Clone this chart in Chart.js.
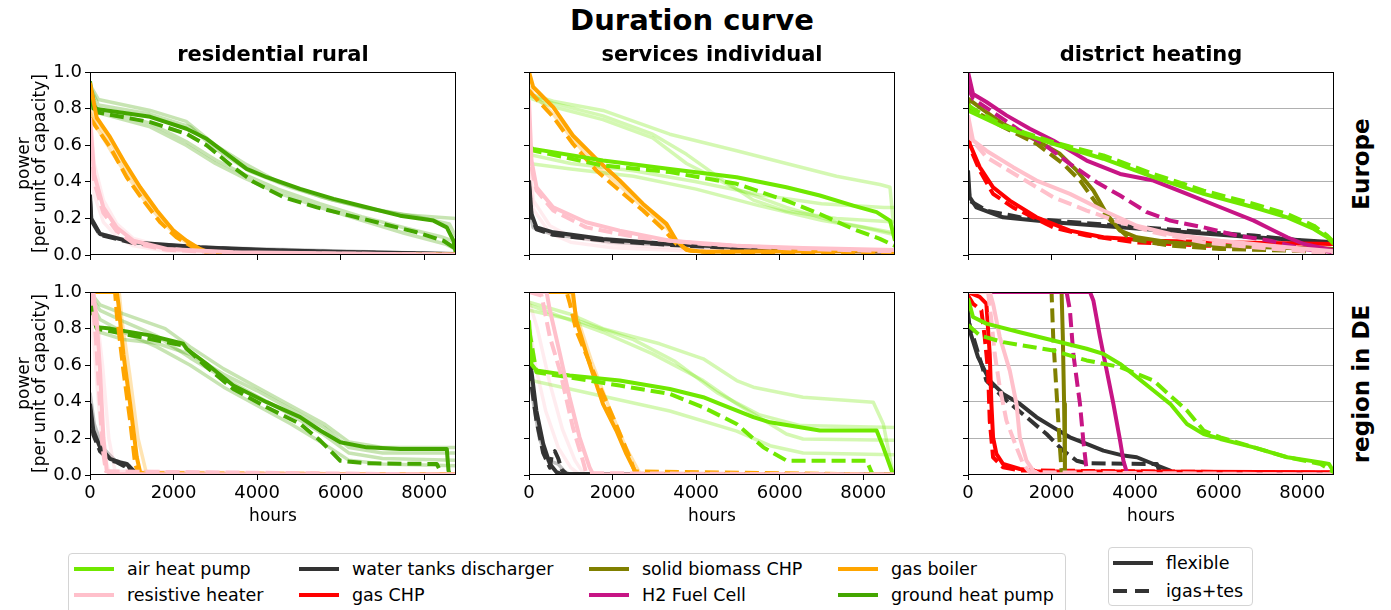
<!DOCTYPE html>
<html>
<head>
<meta charset="utf-8">
<script src="https://cdn.jsdelivr.net/npm/chart.js@4.4.1/dist/chart.umd.min.js"></script>
<style>
  body { margin: 0; background: #fff; width: 1391px; height: 610px; overflow: hidden; position: relative; font-family: 'DejaVu Sans', sans-serif; }
  canvas { position: absolute; }
  .txt { position: absolute; white-space: nowrap; color: #000; }
  .main { font-weight: bold; font-size: 29px; line-height: 29px; transform: translateX(-50%); }
  .ttl { font-weight: bold; font-size: 21px; line-height: 21px; transform: translateX(-50%); }
  .row { font-weight: bold; font-size: 23px; line-height: 23px; transform: translate(-50%, -50%) rotate(-90deg); }
  .box { position: absolute; border: 1px solid #d4d4d4; border-radius: 4px; background: #fff; }
  .sw { position: absolute; width: 40px; height: 4px; }
  .lab { position: absolute; font-size: 17.5px; line-height: 20px; white-space: nowrap; }
</style>
</head>
<body>
<script>
// ---- labels ----
const chartTitle = "Duration curve";
const colTitles = ["residential rural", "services individual", "district heating"];
const rowTitles = ["Europe", "region in DE"];
const legendTechs = ["air heat pump", "resistive heater", "water tanks discharger", "gas CHP",
                     "solid biomass CHP", "H2 Fuel Cell", "gas boiler", "ground heat pump"];
const legendKeys = ["air", "resistive", "water", "gasChp", "biomass", "h2", "boiler", "ground"];
const scenarios = ["flexible", "igas+tes"];
const xTicks = [0, 2000, 4000, 6000, 8000];
const yTicks = [0, 0.2, 0.4, 0.6, 0.8, 1.0];

// ---- residential rural, Europe ----
const rrEuGroundFlex = [[0,0.95],[80,0.80],[1440,0.755],[2310,0.69],[2790,0.635],[3270,0.553],[3750,0.471],[4230,0.425],[5030,0.361],[5830,0.307],[6620,0.261],[7420,0.215],[8220,0.188],[8540,0.151],[8700,0.078],[8760,0.005]];
const rrEuGroundIgas = [[0,0.92],[160,0.78],[1440,0.726],[2310,0.662],[2790,0.60],[3430,0.48],[3910,0.40],[4630,0.316],[5430,0.26],[6220,0.215],[7020,0.17],[7820,0.124],[8460,0.078],[8760,0.033]];
const rrEuGroundF1 = [[0,0.93],[200,0.85],[1440,0.79],[2300,0.73],[3000,0.60],[3700,0.50],[4500,0.40],[5500,0.32],[6500,0.26],[7500,0.22],[8760,0.20]];
const rrEuGroundF2 = [[0,0.90],[150,0.80],[1440,0.72],[2300,0.62],[3000,0.52],[3700,0.44],[4500,0.36],[5500,0.28],[6500,0.21],[7500,0.15],[8400,0.10],[8760,0.07]];
const rrEuGroundF3 = [[0,0.88],[150,0.78],[1440,0.70],[2300,0.60],[3000,0.50],[3700,0.42],[4500,0.34],[5500,0.26],[6500,0.19],[7500,0.12],[8500,0.06],[8760,0.03]];
const rrEuGroundF4 = [[0,0.92],[200,0.82],[1440,0.77],[2400,0.70],[3000,0.58],[3800,0.46],[4800,0.37],[5800,0.30],[6800,0.25],[7800,0.21],[8600,0.17],[8760,0.10]];
const rrEuBoilerFlex = [[0,0.94],[160,0.75],[480,0.644],[800,0.516],[1200,0.37],[1600,0.243],[2000,0.133],[2310,0.078],[2630,0.033],[2950,0.005],[8760,0.003]];
const rrEuBoilerIgas = [[0,0.75],[120,0.708],[480,0.59],[880,0.425],[1280,0.297],[1680,0.179],[2070,0.097],[2470,0.042],[2790,0.015],[3200,0.003],[8760,0.002]];
const rrEuBoilerF1 = [[0,0.80],[150,0.72],[500,0.61],[900,0.46],[1300,0.33],[1700,0.21],[2100,0.11],[2500,0.05],[2900,0.01],[8760,0]];
const rrEuBoilerF2 = [[0,0.78],[150,0.70],[500,0.57],[900,0.43],[1300,0.30],[1700,0.19],[2100,0.10],[2500,0.04],[2900,0.01],[8760,0]];
const rrEuResFlex = [[0,0.75],[100,0.44],[320,0.26],[640,0.15],[1040,0.078],[1840,0.033],[3430,0.015],[8760,0.002]];
const rrEuResIgas = [[0,0.70],[100,0.40],[320,0.23],[640,0.13],[1040,0.065],[1840,0.028],[3430,0.012],[8760,0.002]];
const rrEuResF1 = [[0,0.80],[100,0.50],[320,0.30],[640,0.17],[1040,0.09],[1840,0.04],[3430,0.015],[8760,0.002]];
const rrEuResF2 = [[0,0.60],[100,0.33],[320,0.18],[640,0.10],[1040,0.05],[1840,0.02],[3430,0.008],[8760,0]];
const rrEuWaterFlex = [[0,0.33],[30,0.20],[240,0.115],[1040,0.069],[2630,0.042],[4230,0.027],[5830,0.018],[8760,0.005]];
const rrEuWaterIgas = [[0,0.30],[30,0.19],[240,0.11],[1040,0.065],[2630,0.04],[4230,0.025],[5830,0.016],[8760,0.004]];
const rrEuWaterF1 = [[0,0.20],[200,0.12],[1000,0.07],[3000,0.04],[8760,0.005]];

// ---- services individual, Europe ----
const siEuAirFlex = [[0,0.59],[100,0.58],[1770,0.516],[3370,0.47],[4970,0.425],[6160,0.37],[6960,0.325],[7760,0.27],[8320,0.234],[8640,0.188],[8760,0.078]];
const siEuAirIgas = [[0,0.59],[100,0.571],[1770,0.489],[3370,0.453],[4970,0.389],[6160,0.297],[6960,0.224],[7760,0.142],[8400,0.088],[8760,0.05]];
const siEuAirF1 = [[0,0.88],[580,0.84],[1770,0.79],[3370,0.66],[4970,0.57],[6160,0.50],[7360,0.43],[8400,0.385],[8640,0.37],[8760,0.08]];
const siEuAirF2 = [[0,0.87],[580,0.83],[1770,0.76],[2960,0.66],[3770,0.55],[4570,0.42],[5370,0.30],[6160,0.24],[7360,0.20],[8760,0.18]];
const siEuAirF3 = [[0,0.86],[580,0.81],[1770,0.74],[2960,0.64],[3770,0.50],[4970,0.36],[6160,0.26],[7360,0.18],[8760,0.12]];
const siEuAirF4 = [[0,0.55],[1000,0.50],[2500,0.46],[4000,0.40],[5500,0.33],[7000,0.28],[8500,0.26],[8760,0.26]];
const siEuAirF5 = [[0,0.50],[1000,0.47],[2500,0.43],[4000,0.36],[5500,0.27],[7000,0.19],[8000,0.15],[8760,0.11]];
const siEuBoilerFlex = [[0,1.0],[100,0.918],[580,0.808],[1050,0.653],[1610,0.525],[2170,0.407],[2730,0.279],[3290,0.17],[3530,0.078],[3770,0.027],[4170,0.018],[8760,0.025]];
const siEuBoilerIgas = [[0,0.90],[100,0.872],[580,0.754],[1050,0.608],[1610,0.462],[2170,0.352],[2730,0.243],[3210,0.142],[3530,0.06],[3850,0.024],[4500,0.012],[8760,0.015]];
const siEuBoilerF1 = [[0,0.92],[100,0.88],[580,0.77],[1050,0.63],[1610,0.49],[2170,0.38],[2730,0.26],[3290,0.15],[3600,0.06],[3900,0.02],[8760,0.01]];
const siEuResFlex = [[0,0.845],[60,0.516],[180,0.37],[580,0.26],[1370,0.179],[2170,0.133],[3370,0.078],[4970,0.051],[6560,0.038],[8760,0.027]];
const siEuResIgas = [[0,0.70],[60,0.48],[180,0.352],[580,0.243],[1370,0.151],[2570,0.097],[4170,0.06],[6560,0.033],[8760,0.02]];
const siEuResF1 = [[0,0.50],[100,0.25],[500,0.12],[1000,0.07],[2000,0.04],[4000,0.02],[8760,0.01]];
const siEuResF2 = [[0,0.60],[100,0.30],[500,0.16],[1000,0.10],[2000,0.06],[4000,0.03],[8760,0.015]];
const siEuWaterFlex = [[0,0.407],[60,0.224],[180,0.151],[580,0.124],[1770,0.088],[3370,0.06],[4970,0.042],[6560,0.029],[8760,0.02]];
const siEuWaterIgas = [[0,0.38],[60,0.21],[180,0.14],[580,0.11],[1770,0.08],[3370,0.055],[4970,0.038],[6560,0.026],[8760,0.018]];
const siEuWaterF1 = [[0,0.25],[100,0.15],[600,0.11],[2000,0.07],[5000,0.035],[8760,0.015]];

// ---- district heating, Europe ----
const dhEuAirFlex = [[0,0.79],[840,0.70],[2040,0.608],[3240,0.526],[4440,0.425],[5640,0.334],[6840,0.261],[7640,0.206],[8280,0.142],[8600,0.097],[8760,0.06]];
const dhEuAirIgas = [[0,0.82],[120,0.80],[840,0.708],[2040,0.617],[3240,0.544],[4440,0.443],[5640,0.352],[6840,0.279],[7640,0.224],[8280,0.16],[8600,0.106],[8760,0.07]];
const dhEuH2Flex = [[0,1.0],[120,0.88],[440,0.836],[920,0.763],[1480,0.69],[2040,0.626],[2840,0.516],[3640,0.443],[4440,0.407],[5240,0.334],[6040,0.261],[6840,0.188],[7240,0.142],[7640,0.097],[8040,0.06],[8760,0.024]];
const dhEuH2Igas = [[0,0.92],[120,0.854],[600,0.78],[1240,0.68],[1800,0.608],[2440,0.498],[3080,0.398],[3640,0.325],[4280,0.234],[4840,0.188],[5640,0.151],[6440,0.106],[7240,0.078],[8040,0.033],[8760,0.015]];
const dhEuBioFlex = [[0,0.854],[440,0.78],[840,0.717],[1640,0.626],[2200,0.553],[2600,0.462],[3000,0.352],[3320,0.224],[3640,0.133],[4040,0.097],[4840,0.069],[6040,0.051],[7640,0.038],[8760,0.033]];
const dhEuBioIgas = [[0,0.84],[40,0.80],[840,0.70],[1640,0.608],[2280,0.498],[2680,0.407],[3080,0.279],[3480,0.17],[3880,0.088],[4840,0.051],[6040,0.033],[7640,0.024],[8760,0.015]];
const dhEuResFlex = [[0,0.763],[120,0.626],[440,0.57],[1080,0.48],[1640,0.407],[2440,0.334],[3240,0.243],[4040,0.16],[4840,0.115],[6040,0.078],[7640,0.042],[8760,0.02]];
const dhEuResIgas = [[0,0.70],[40,0.644],[440,0.535],[1240,0.425],[2040,0.316],[2840,0.243],[3640,0.179],[4440,0.124],[5640,0.069],[6840,0.042],[8760,0.009]];
const dhEuChpFlex = [[0,0.726],[40,0.608],[280,0.48],[600,0.37],[1000,0.297],[1640,0.206],[2440,0.133],[3240,0.097],[4440,0.078],[6040,0.069],[8760,0.06]];
const dhEuChpIgas = [[0,0.66],[40,0.59],[280,0.462],[600,0.334],[1080,0.26],[2040,0.151],[2840,0.106],[4040,0.069],[5640,0.051],[7640,0.042],[8760,0.033]];
const dhEuWaterFlex = [[0,0.462],[40,0.316],[200,0.26],[840,0.206],[2040,0.179],[3640,0.151],[5240,0.124],[6840,0.097],[8760,0.069]];
const dhEuWaterIgas = [[0,0.40],[40,0.297],[440,0.243],[1240,0.206],[2040,0.188],[3640,0.16],[5240,0.133],[6840,0.106],[8760,0.06]];

// ---- residential rural, region in DE ----
const rrDeGroundFlex = [[0,0.99],[80,0.918],[160,0.808],[480,0.80],[1440,0.763],[2230,0.717],[2310,0.69],[2790,0.608],[3430,0.489],[4230,0.398],[5030,0.316],[5510,0.243],[5990,0.179],[6620,0.151],[7420,0.142],[8540,0.142],[8580,0.024],[8620,0],[8760,0]];
const rrDeGroundIgas = [[0,0.95],[160,0.80],[2230,0.708],[2790,0.59],[3430,0.47],[4230,0.37],[5030,0.279],[5510,0.188],[5990,0.078],[6620,0.064],[8300,0.06],[8380,0.024],[8420,0],[8760,0]];
const rrDeGroundF1 = [[0,1.0],[240,0.93],[800,0.88],[1800,0.80],[2400,0.70],[3200,0.58],[4000,0.48],[4800,0.38],[5600,0.28],[6200,0.18],[7000,0.15],[8760,0.15]];
const rrDeGroundF2 = [[0,0.98],[240,0.90],[800,0.84],[1600,0.76],[2400,0.64],[3200,0.53],[4000,0.43],[4800,0.33],[5600,0.22],[6200,0.12],[7000,0.09],[8760,0.08]];
const rrDeGroundF3 = [[0,0.95],[240,0.85],[800,0.78],[1600,0.70],[2400,0.60],[3200,0.48],[4000,0.38],[4800,0.28],[5600,0.17],[6200,0.08],[7000,0.06],[8760,0.05]];
const rrDeGroundF4 = [[0,0.92],[240,0.78],[800,0.74],[1600,0.72],[2400,0.66],[3200,0.55],[4000,0.46],[4800,0.36],[5600,0.26],[6200,0.15],[7000,0.12],[8760,0.12]];
const rrDeBoilerFlex = [[0,1.0],[640,1.0],[680,0.936],[800,0.66],[960,0.39],[1120,0.097],[1200,0.015],[1300,0.005],[8760,0.005]];
const rrDeBoilerIgas = [[0,1.0],[600,1.0],[640,0.88],[800,0.57],[960,0.297],[1080,0.06],[1160,0.01],[8760,0.003]];
const rrDeBoilerF1 = [[0,1.0],[700,1.0],[760,0.85],[950,0.55],[1150,0.20],[1350,0.01],[8760,0]];
const rrDeResFlex = [[0,1.0],[80,1.0],[160,0.845],[240,0.57],[320,0.206],[400,0.024],[500,0.005],[8760,0.003]];
const rrDeResIgas = [[0,1.0],[60,0.95],[140,0.75],[220,0.45],[300,0.15],[380,0.02],[8760,0.002]];
const rrDeResF1 = [[0,0.90],[100,0.70],[200,0.40],[300,0.15],[450,0.02],[8760,0]];
const rrDeResF2 = [[0,1.0],[150,0.90],[300,0.60],[450,0.20],[600,0.02],[8760,0]];
const rrDeWaterFlex = [[0,0.39],[80,0.243],[240,0.151],[480,0.088],[720,0.069],[880,0.06],[1040,0.024],[1200,0.005],[8760,0.003]];
const rrDeWaterIgas = [[0,0.36],[80,0.22],[240,0.13],[480,0.08],[640,0.07],[800,0.05],[880,0.07],[960,0.03],[1100,0.005],[8760,0.002]];
const rrDeWaterF1 = [[0,0.45],[100,0.28],[300,0.15],[600,0.08],[900,0.06],[1100,0.01],[8760,0]];

// ---- services individual, region in DE ----
const siDeAirFlex = [[0,0.845],[56,0.607],[176,0.571],[970,0.544],[2170,0.516],[3370,0.47],[4170,0.425],[4570,0.389],[5370,0.316],[5770,0.288],[6960,0.243],[8320,0.243],[8480,0.151],[8680,0.024],[8720,0],[8760,0]];
const siDeAirIgas = [[0,0.80],[176,0.562],[2170,0.489],[3370,0.443],[4170,0.37],[4970,0.279],[5610,0.151],[6170,0.078],[8080,0.078],[8200,0.015],[8250,0],[8760,0]];
const siDeAirF1 = [[0,0.945],[970,0.88],[1770,0.80],[3130,0.717],[4170,0.635],[4970,0.516],[5370,0.48],[6560,0.425],[8240,0.398],[8480,0.279],[8720,0]];
const siDeAirF2 = [[0,0.93],[1770,0.78],[2960,0.662],[4170,0.516],[4970,0.389],[5770,0.279],[6160,0.224],[6560,0.197],[8760,0.19]];
const siDeAirF3 = [[0,0.52],[1770,0.43],[3370,0.35],[4970,0.24],[5770,0.16],[6560,0.12],[8760,0.11]];
const siDeAirF4 = [[0,0.90],[1200,0.84],[2500,0.74],[3500,0.62],[4500,0.45],[5500,0.33],[6500,0.27],[8760,0.26]];
const siDeBoilerFlex = [[0,1.0],[1050,1.0],[1130,0.845],[1450,0.607],[1770,0.389],[2090,0.243],[2330,0.115],[2530,0.024],[2610,0.003],[8760,0.003]];
const siDeBoilerIgas = [[0,1.0],[900,1.0],[980,0.936],[1130,0.79],[1530,0.57],[2010,0.316],[2410,0.097],[2530,0.02],[8760,0.002]];
const siDeBoilerF1 = [[0,1.0],[1000,1.0],[1100,0.90],[1500,0.62],[1900,0.38],[2300,0.16],[2650,0.01],[8760,0]];
const siDeResFlex = [[0,1.0],[420,1.0],[500,0.90],[740,0.662],[970,0.425],[1210,0.206],[1450,0.042],[1530,0.005],[8760,0.003]];
const siDeResIgas = [[0,1.0],[300,0.98],[340,0.936],[500,0.754],[740,0.57],[1050,0.26],[1290,0.078],[1370,0.01],[8760,0.002]];
const siDeResF1 = [[0,0.95],[200,0.80],[500,0.50],[800,0.25],[1100,0.08],[1300,0.01],[8760,0]];
const siDeResF2 = [[0,0.85],[150,0.60],[400,0.35],[700,0.15],[1000,0.04],[1200,0.005],[8760,0]];
const siDeWaterFlex = [[0,0.754],[56,0.571],[176,0.352],[340,0.17],[500,0.06],[660,0.015],[800,0.005],[8760,0.003]];
const siDeWaterIgas = [[0,0.70],[56,0.50],[176,0.30],[340,0.12],[500,0.04],[540,0.10],[620,0.13],[700,0.09],[780,0.03],[900,0.005],[8760,0.002]];
const siDeWaterF1 = [[0,0.60],[100,0.40],[250,0.20],[450,0.08],[700,0.06],[850,0.02],[1000,0],[8760,0]];

// ---- district heating, region in DE ----
const dhDeAirFlex = [[0,0.964],[120,0.863],[440,0.827],[1240,0.78],[2040,0.735],[2840,0.69],[3240,0.662],[3640,0.607],[4040,0.535],[4440,0.462],[4840,0.389],[5240,0.279],[5640,0.224],[6040,0.197],[6840,0.151],[7640,0.097],[8440,0.069],[8640,0.06],[8760,0.015]];
const dhDeAirIgas = [[0,0.82],[280,0.763],[840,0.726],[2040,0.68],[2840,0.626],[3640,0.59],[4440,0.516],[5240,0.352],[5640,0.243],[6040,0.206],[7640,0.097],[8440,0.06],[8760,0.015]];
const dhDeH2Flex = [[0,1.0],[2920,1.0],[3000,0.954],[3160,0.754],[3320,0.57],[3480,0.389],[3640,0.188],[3720,0.078],[3800,0.015],[3850,0.003],[8760,0.003]];
const dhDeH2Igas = [[0,1.0],[2360,1.0],[2440,0.90],[2520,0.662],[2680,0.389],[2760,0.188],[2840,0.024],[2900,0.003],[8760,0.003]];
const dhDeBioFlex = [[0,1.0],[2240,1.0],[2270,0.754],[2300,0.389],[2320,0.024],[2360,0.003],[8760,0.003]];
const dhDeBioIgas = [[0,1.0],[2000,1.0],[2040,0.75],[2120,0.45],[2200,0.15],[2240,0.02],[2280,0.003],[8760,0.003]];
const dhDeResFlex = [[0,1.0],[520,1.0],[600,0.936],[760,0.754],[1000,0.57],[1160,0.389],[1240,0.206],[1400,0.078],[1560,0.024],[1700,0.005],[8760,0.003]];
const dhDeResIgas = [[0,1.0],[480,1.0],[560,0.845],[640,0.662],[760,0.48],[920,0.297],[1160,0.151],[1320,0.06],[1480,0.015],[8760,0.003]];
const dhDeChpFlex = [[0,1.0],[280,0.973],[440,0.936],[520,0.662],[560,0.389],[600,0.206],[680,0.115],[840,0.06],[1240,0.033],[1640,0.02],[8760,0.015]];
const dhDeChpIgas = [[0,0.98],[120,0.936],[320,0.90],[400,0.754],[480,0.57],[520,0.297],[600,0.097],[840,0.042],[1240,0.025],[8760,0.012]];
const dhDeWaterFlex = [[0,0.90],[40,0.79],[240,0.644],[520,0.516],[840,0.443],[1240,0.389],[1640,0.316],[2040,0.26],[2440,0.206],[2840,0.17],[3240,0.133],[3720,0.106],[4040,0.097],[4440,0.06],[4840,0.024],[4920,0.005],[8760,0.003]];
const dhDeWaterIgas = [[0,0.85],[440,0.516],[920,0.407],[1400,0.316],[1880,0.224],[2280,0.133],[2600,0.078],[2840,0.064],[4520,0.06],[4600,0.01],[8760,0.003]];

// ---- styling ----
const COLORS = {
  air: '#70e800', resistive: '#ffc0cb', water: '#333333', gasChp: '#ff0000',
  biomass: '#808000', h2: '#c71585', boiler: '#ffa500', ground: '#44a600'
};
function faded(hex, a) {
  const n = parseInt(hex.slice(1), 16);
  return 'rgba(' + (n >> 16) + ',' + ((n >> 8) & 255) + ',' + (n & 255) + ',' + a + ')';
}

// [tech, style, data]   style: 'f' flexible, 'i' igas+tes, 'x' other scenarios
const panels = [
  { row: 0, col: 0, lines: [
    ['ground','x',rrEuGroundF1],['ground','x',rrEuGroundF2],['ground','x',rrEuGroundF3],['ground','x',rrEuGroundF4],
    ['boiler','x',rrEuBoilerF1],['boiler','x',rrEuBoilerF2],['resistive','x',rrEuResF1],['resistive','x',rrEuResF2],['water','x',rrEuWaterF1],
    ['resistive','f',rrEuResFlex],['resistive','i',rrEuResIgas],['boiler','f',rrEuBoilerFlex],['boiler','i',rrEuBoilerIgas],
    ['ground','f',rrEuGroundFlex],['ground','i',rrEuGroundIgas],['water','f',rrEuWaterFlex],['water','i',rrEuWaterIgas]]},
  { row: 0, col: 1, lines: [
    ['air','x',siEuAirF1],['air','x',siEuAirF2],['air','x',siEuAirF3],['air','x',siEuAirF4],['air','x',siEuAirF5],
    ['boiler','x',siEuBoilerF1],['resistive','x',siEuResF1],['resistive','x',siEuResF2],['water','x',siEuWaterF1],
    ['resistive','f',siEuResFlex],['resistive','i',siEuResIgas],['air','f',siEuAirFlex],['air','i',siEuAirIgas],
    ['boiler','f',siEuBoilerFlex],['boiler','i',siEuBoilerIgas],['water','f',siEuWaterFlex],['water','i',siEuWaterIgas]]},
  { row: 0, col: 2, lines: [
    ['air','f',dhEuAirFlex],['air','i',dhEuAirIgas],['resistive','f',dhEuResFlex],['resistive','i',dhEuResIgas],
    ['h2','f',dhEuH2Flex],['h2','i',dhEuH2Igas],['biomass','f',dhEuBioFlex],['biomass','i',dhEuBioIgas],
    ['gasChp','f',dhEuChpFlex],['gasChp','i',dhEuChpIgas],['water','f',dhEuWaterFlex],['water','i',dhEuWaterIgas]]},
  { row: 1, col: 0, lines: [
    ['ground','x',rrDeGroundF1],['ground','x',rrDeGroundF2],['ground','x',rrDeGroundF3],['ground','x',rrDeGroundF4],
    ['boiler','x',rrDeBoilerF1],['resistive','x',rrDeResF1],['resistive','x',rrDeResF2],['water','x',rrDeWaterF1],
    ['resistive','f',rrDeResFlex],['resistive','i',rrDeResIgas],['boiler','f',rrDeBoilerFlex],['boiler','i',rrDeBoilerIgas],
    ['ground','f',rrDeGroundFlex],['ground','i',rrDeGroundIgas],['water','f',rrDeWaterFlex],['water','i',rrDeWaterIgas]]},
  { row: 1, col: 1, lines: [
    ['air','x',siDeAirF1],['air','x',siDeAirF2],['air','x',siDeAirF3],['air','x',siDeAirF4],
    ['boiler','x',siDeBoilerF1],['resistive','x',siDeResF1],['resistive','x',siDeResF2],['water','x',siDeWaterF1],
    ['resistive','f',siDeResFlex],['resistive','i',siDeResIgas],['air','f',siDeAirFlex],['air','i',siDeAirIgas],
    ['boiler','f',siDeBoilerFlex],['boiler','i',siDeBoilerIgas],['water','f',siDeWaterFlex],['water','i',siDeWaterIgas]]},
  { row: 1, col: 2, lines: [
    ['air','f',dhDeAirFlex],['air','i',dhDeAirIgas],['resistive','f',dhDeResFlex],['resistive','i',dhDeResIgas],
    ['h2','f',dhDeH2Flex],['h2','i',dhDeH2Igas],['biomass','f',dhDeBioFlex],['biomass','i',dhDeBioIgas],
    ['gasChp','f',dhDeChpFlex],['gasChp','i',dhDeChpIgas],['water','f',dhDeWaterFlex],['water','i',dhDeWaterIgas]]}
];

// ---- layout ----
const colLeft = [90, 529, 968], rowTop = [72, 292], plotW = 366, plotH = 183;
const padTop = 12;

Chart.defaults.font.family = "'DejaVu Sans', sans-serif";
Chart.defaults.color = '#000';
Chart.defaults.animation = false;

const frame = {
  id: 'frame',
  afterDatasetsDraw(chart) {
    const a = chart.chartArea, c = chart.ctx;
    c.save();
    c.strokeStyle = '#000';
    c.lineWidth = 1;
    c.strokeRect(Math.round(a.left) + 0.5, Math.round(a.top) + 0.5,
                 Math.round(a.right - a.left) - 1, Math.round(a.bottom - a.top) - 1);
    c.restore();
  }
};

function noPad(s) {
  s.paddingTop = 0; s.paddingBottom = 0; s.paddingLeft = 0; s.paddingRight = 0;
}

function addText(cls, text, x, y) {
  const d = document.createElement('div');
  d.className = 'txt ' + cls;
  d.textContent = text;
  d.style.left = x + 'px';
  d.style.top = y + 'px';
  document.body.appendChild(d);
  return d;
}

panels.forEach(p => {
  const yW = p.col === 0 ? 90 : 10;
  const xH = p.row === 1 ? 60 : 12;
  const cv = document.createElement('canvas');
  cv.width = yW + plotW + 4;
  cv.height = padTop + plotH + xH;
  cv.style.left = (colLeft[p.col] - yW) + 'px';
  cv.style.top = (rowTop[p.row] - padTop) + 'px';
  document.body.appendChild(cv);

  const datasets = p.lines.map(([tech, style, data]) => ({
    data: data,
    borderColor: style === 'x' ? faded(COLORS[tech], 0.3) : COLORS[tech],
    borderWidth: style === 'x' ? 3.5 : 4,
    borderDash: style === 'i' ? [14, 6] : [],
    borderCapStyle: 'butt',
    borderJoinStyle: 'round',
    pointRadius: 0,
    tension: 0,
    fill: false,
    clip: 0,
    order: style === 'x' ? 2 : 1
  }));

  new Chart(cv, {
    type: 'line',
    data: { datasets },
    options: {
      responsive: false,
      maintainAspectRatio: false,
      layout: { padding: { top: padTop, right: 4, left: 0, bottom: 0 } },
      plugins: { legend: { display: false }, tooltip: { enabled: false } },
      scales: {
        x: {
          type: 'linear', min: 0, max: 8760,
          afterBuildTicks: s => { s.ticks = xTicks.map(v => ({ value: v })); },
          afterFit: s => { s.height = xH; noPad(s); },
          border: { display: false },
          grid: { drawOnChartArea: false, drawTicks: true, tickLength: 5, tickColor: '#000', tickWidth: 1 },
          ticks: { font: { size: 18 }, padding: 3, maxRotation: 0, autoSkip: false,
                   callback: v => p.row === 1 ? String(v) : '' },
          title: { display: p.row === 1, text: 'hours', font: { size: 17, lineHeight: 1.2 }, padding: { top: 0, bottom: 8 } }
        },
        y: {
          type: 'linear', min: 0, max: 1,
          afterBuildTicks: s => { s.ticks = yTicks.map(v => ({ value: v })); },
          afterFit: s => { s.width = yW; noPad(s); },
          border: { display: false },
          grid: {
            drawOnChartArea: p.col === 2, drawTicks: true, tickLength: 5, tickColor: '#000', tickWidth: 1,
            color: ctx => (ctx.tick && ctx.tick.value > 0.01 && ctx.tick.value < 0.99) ? '#b0b0b0' : 'rgba(0,0,0,0)',
            lineWidth: 1
          },
          ticks: { font: { size: 18 }, padding: 3, autoSkip: false,
                   callback: v => p.col === 0 ? v.toFixed(1) : '' },
          title: { display: p.col === 0, text: ['power', '[per unit of capacity]'],
                   font: { size: 17, lineHeight: '16px' }, padding: { top: 17, bottom: 0 } }
        }
      }
    },
    plugins: [frame]
  });
});

// ---- titles ----
addText('main', chartTitle, 692, 6);
colTitles.forEach((t, i) => addText('ttl', t, colLeft[i] + plotW / 2, 44));
rowTitles.forEach((t, i) => addText('row', t, 1361, rowTop[i] + plotH / 2));

// ---- technology legend ----
const box1 = document.createElement('div');
box1.className = 'box';
Object.assign(box1.style, { left: '68px', top: '553px', width: '996px', height: '70px' });
document.body.appendChild(box1);
const legColX = [74, 299, 589, 838], legRowY = [569, 595];
legendTechs.forEach((name, i) => {
  const c = Math.floor(i / 2), r = i % 2;
  const sw = document.createElement('div');
  sw.className = 'sw';
  Object.assign(sw.style, { left: legColX[c] + 'px', top: (legRowY[r] - 2) + 'px', background: COLORS[legendKeys[i]] });
  document.body.appendChild(sw);
  const lb = document.createElement('div');
  lb.className = 'lab';
  lb.textContent = name;
  Object.assign(lb.style, { left: (legColX[c] + 53) + 'px', top: (legRowY[r] - 10) + 'px' });
  document.body.appendChild(lb);
});

// ---- scenario legend ----
const box2 = document.createElement('div');
box2.className = 'box';
Object.assign(box2.style, { left: '1108px', top: '547px', width: '143px', height: '57px' });
document.body.appendChild(box2);
const scenY = [563, 591];
scenarios.forEach((name, i) => {
  const sw = document.createElement('div');
  sw.className = 'sw';
  sw.style.left = '1113px';
  sw.style.top = (scenY[i] - 2) + 'px';
  sw.style.background = i === 0 ? '#333333'
    : 'repeating-linear-gradient(to right, #333333 0 14px, transparent 14px 22px)';
  document.body.appendChild(sw);
  const lb = document.createElement('div');
  lb.className = 'lab';
  lb.textContent = name;
  lb.style.left = '1166px';
  lb.style.top = (scenY[i] - 10) + 'px';
  document.body.appendChild(lb);
});
</script>
</body>
</html>
